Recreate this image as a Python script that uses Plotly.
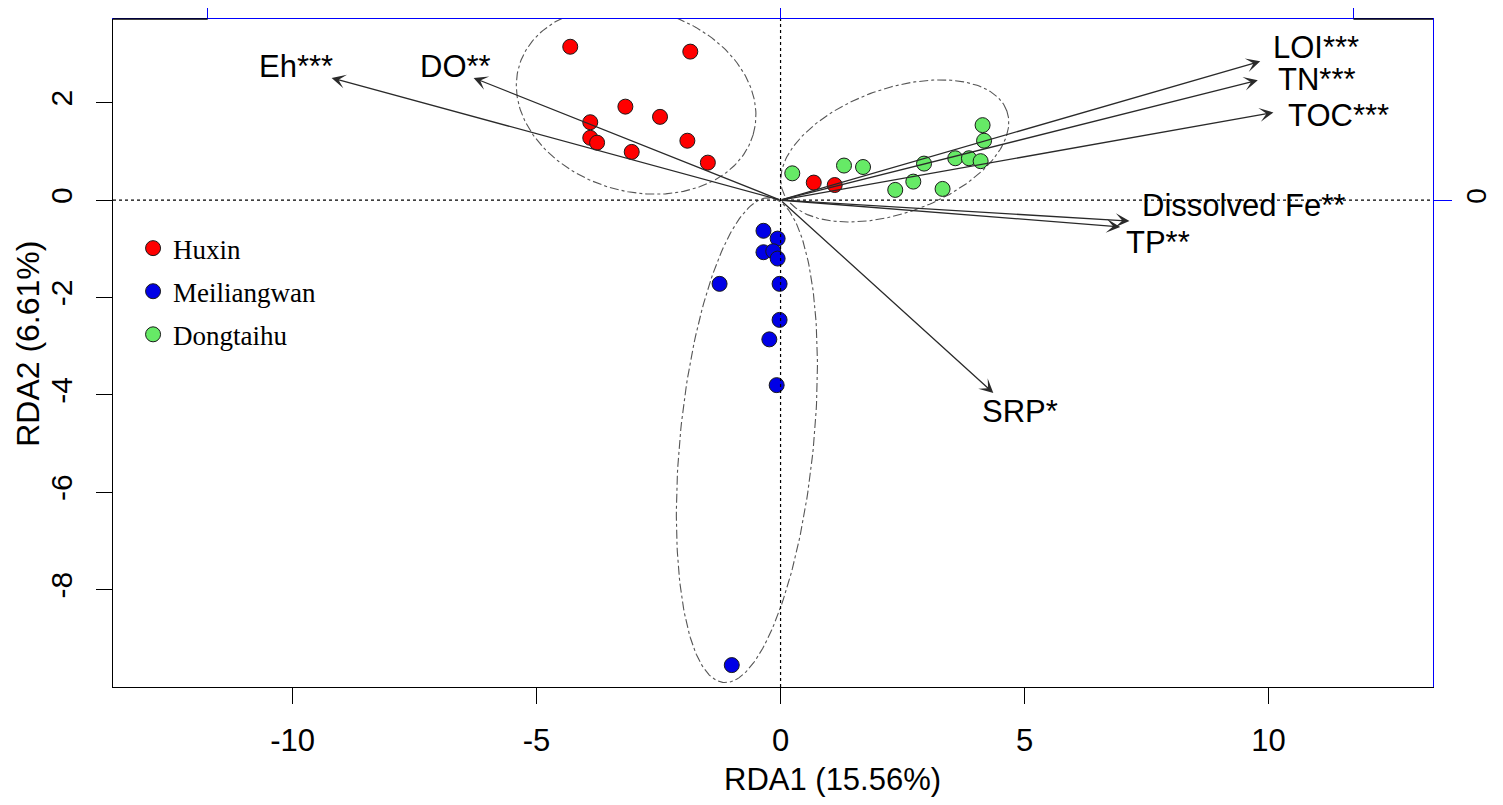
"""RDA biplot: sediment samples from three lake zones with environmental vectors."""

import numpy as np
import plotly.graph_objects as go

# Site scores (RDA1, RDA2)
huxin_x = [-4.31, -1.85, -3.18, -2.47, -3.90, -3.90, -3.76, -3.05, -1.91, -1.49, 0.68, 1.11]
huxin_y = [3.15, 3.05, 1.92, 1.71, 1.60, 1.28, 1.18, 0.99, 1.22, 0.77, 0.36, 0.31]
meil_x = [-0.35, -0.06, -0.35, -0.15, -0.06, -1.25, -0.02, -0.02, -0.23, -0.08, -1.00]
meil_y = [-0.63, -0.79, -1.07, -1.05, -1.20, -1.72, -1.72, -2.46, -2.86, -3.80, -9.55]
dong_x = [0.24, 1.30, 1.69, 2.35, 2.72, 2.94, 3.32, 3.58, 3.86, 4.10, 4.17, 4.14]
dong_y = [0.55, 0.71, 0.68, 0.21, 0.38, 0.75, 0.23, 0.86, 0.86, 0.80, 1.22, 1.54]

# Environmental vectors (arrow tips) and label positions
env_names = ["Eh***", "DO**", "LOI***", "TN***", "TOC***", "Dissolved Fe**", "TP**", "SRP*"]
env_x = [-9.20, -6.29, 9.83, 9.78, 10.10, 7.15, 6.96, 4.36]
env_y = [2.51, 2.51, 2.85, 2.46, 1.80, -0.43, -0.55, -3.96]
label_x = [-9.93, -6.67, 10.97, 11.00, 11.43, 9.48, 7.74, 4.91]
label_y = [2.75, 2.75, 3.13, 2.48, 1.74, -0.12, -0.88, -4.35]

# Group ellipses: centre, semi-axes, rotation (deg)
ell_cx = [-2.96, -0.69, 2.34]
ell_cy = [2.05, -4.93, 1.01]
ell_a = [2.50, 5.00, 2.44]
ell_b = [1.87, 1.37, 1.28]
ell_angle = [-16.5, 84.5, 19.7]

group_names = ["Huxin", "Meiliangwan", "Dongtaihu"]
group_colors = ["#FF0000", "#0000E6", "#66EA66"]

x_ticks = [-10, -5, 0, 5, 10]
x_ticktext = ["-10", "-5", "0", "5", "10"]
y_ticks = [-8, -6, -4, -2, 0, 2]
y_ticktext = ["-8", "-6", "-4", "-2", "0", "2"]

x_range = [-13.68, 13.37]
y_range = [-10.0, 3.72]
species_scale = 11.74  # site units per unit on the blue (species) axes

SANS = "Liberation Sans, Arial, sans-serif"
SERIF = "Liberation Serif, Times New Roman, serif"

fig = go.Figure()

# ellipses
t = np.linspace(0, 2 * np.pi, 240)
for cx, cy, a, b, ang in zip(ell_cx, ell_cy, ell_a, ell_b, ell_angle):
    th = np.deg2rad(ang)
    ex = cx + a * np.cos(t) * np.cos(th) - b * np.sin(t) * np.sin(th)
    ey = cy + a * np.cos(t) * np.sin(th) + b * np.sin(t) * np.cos(th)
    fig.add_trace(go.Scatter(
        x=ex, y=ey, mode="lines", showlegend=False, hoverinfo="skip",
        line=dict(color="#555555", width=1.1, dash="dashdot"),
    ))

# samples
groups = [(huxin_x, huxin_y), (meil_x, meil_y), (dong_x, dong_y)]
for (gx, gy), name, color in zip(groups, group_names, group_colors):
    fig.add_trace(go.Scatter(
        x=gx, y=gy, mode="markers", name=name, legendgroup=name,
        marker=dict(size=15, color=color, line=dict(color="#1a1a1a", width=1)),
    ))

# dummy trace so the blue secondary axes are drawn
fig.add_trace(go.Scatter(x=[None], y=[None], xaxis="x2", yaxis="y2",
                         showlegend=False, hoverinfo="skip"))

# zero lines
fig.add_shape(type="line", xref="x", yref="y", x0=x_range[0], x1=x_range[1], y0=0, y1=0,
              line=dict(color="black", width=1.2, dash="dot"))
fig.add_shape(type="line", xref="x", yref="y", x0=0, x1=0, y0=y_range[0], y1=y_range[1],
              line=dict(color="black", width=1.2, dash="dot"))

# black ends of the top border outside the blue axis line
fig.add_shape(type="line", xref="x", yref="paper", x0=x_range[0], x1=-species_scale, y0=1, y1=1,
              line=dict(color="black", width=1.3), layer="above")
fig.add_shape(type="line", xref="x", yref="paper", x0=species_scale, x1=x_range[1], y0=1, y1=1,
              line=dict(color="black", width=1.3), layer="above")

# environmental arrows and labels
for name, ex, ey, lx, ly in zip(env_names, env_x, env_y, label_x, label_y):
    fig.add_annotation(
        x=ex, y=ey, ax=0, ay=0, xref="x", yref="y", axref="x", ayref="y",
        text="", showarrow=True, arrowhead=3, arrowsize=1.8, arrowwidth=1.3,
        arrowcolor="#2a2a2a", standoff=0, startstandoff=0,
    )
    fig.add_annotation(
        x=lx, y=ly, xref="x", yref="y", text=name, showarrow=False,
        font=dict(family=SANS, size=31, color="black"),
        xanchor="center", yanchor="middle",
    )

# axis titles
fig.add_annotation(x=0.545, y=-0.138, xref="paper", yref="paper", text="RDA1 (15.56%)",
                   showarrow=False, font=dict(family=SANS, size=31, color="black"),
                   xanchor="center", yanchor="middle")
fig.add_annotation(x=-0.064, y=0.513, xref="paper", yref="paper", text="RDA2 (6.61%)",
                   showarrow=False, textangle=-90, font=dict(family=SANS, size=32, color="black"),
                   xanchor="center", yanchor="middle")

axis_common = dict(showgrid=False, zeroline=False, ticks="outside", ticklen=16, tickwidth=1,
                   automargin=False)

# page body keeps an 8px margin, so the figure is sized to fill the rest exactly
fig.update_layout(
    width=1487, height=789,
    margin=dict(l=105, r=62, t=11, b=110, autoexpand=False),
    paper_bgcolor="white", plot_bgcolor="white",
    xaxis=dict(range=x_range, tickvals=x_ticks, ticktext=x_ticktext, showline=True,
               linecolor="black", linewidth=1.3, tickcolor="black",
               tickfont=dict(family=SANS, size=31, color="black"),
               ticklabelstandoff=10, **axis_common),
    yaxis=dict(range=y_range, tickvals=y_ticks, ticktext=y_ticktext, showline=True,
               linecolor="black", linewidth=1.3, tickcolor="black", tickangle=-90,
               tickfont=dict(family=SANS, size=30, color="black"),
               ticklabelstandoff=12, **axis_common),
    xaxis2=dict(range=[v / species_scale for v in x_range], tickvals=[-1, 0, 1],
                showticklabels=False, overlaying="x", side="top", anchor="y2",
                showline=True, linecolor="blue", linewidth=1, tickcolor="blue",
                **axis_common),
    yaxis2=dict(range=[v / species_scale for v in y_range], tickvals=[0], ticktext=["0"],
                overlaying="y", side="right", anchor="x2", tickangle=-90,
                showline=True, linecolor="blue", linewidth=1, tickcolor="blue",
                tickfont=dict(family=SANS, size=28, color="black"),
                ticklabelstandoff=0,
                **{**axis_common, "ticklen": 18}),
    showlegend=True,
    legend=dict(x=0.0152, y=0.693, xanchor="left", yanchor="top",
                font=dict(family=SERIF, size=27, color="black"),
                bgcolor="rgba(0,0,0,0)", tracegroupgap=5),
)

fig.write_html("out.html")
